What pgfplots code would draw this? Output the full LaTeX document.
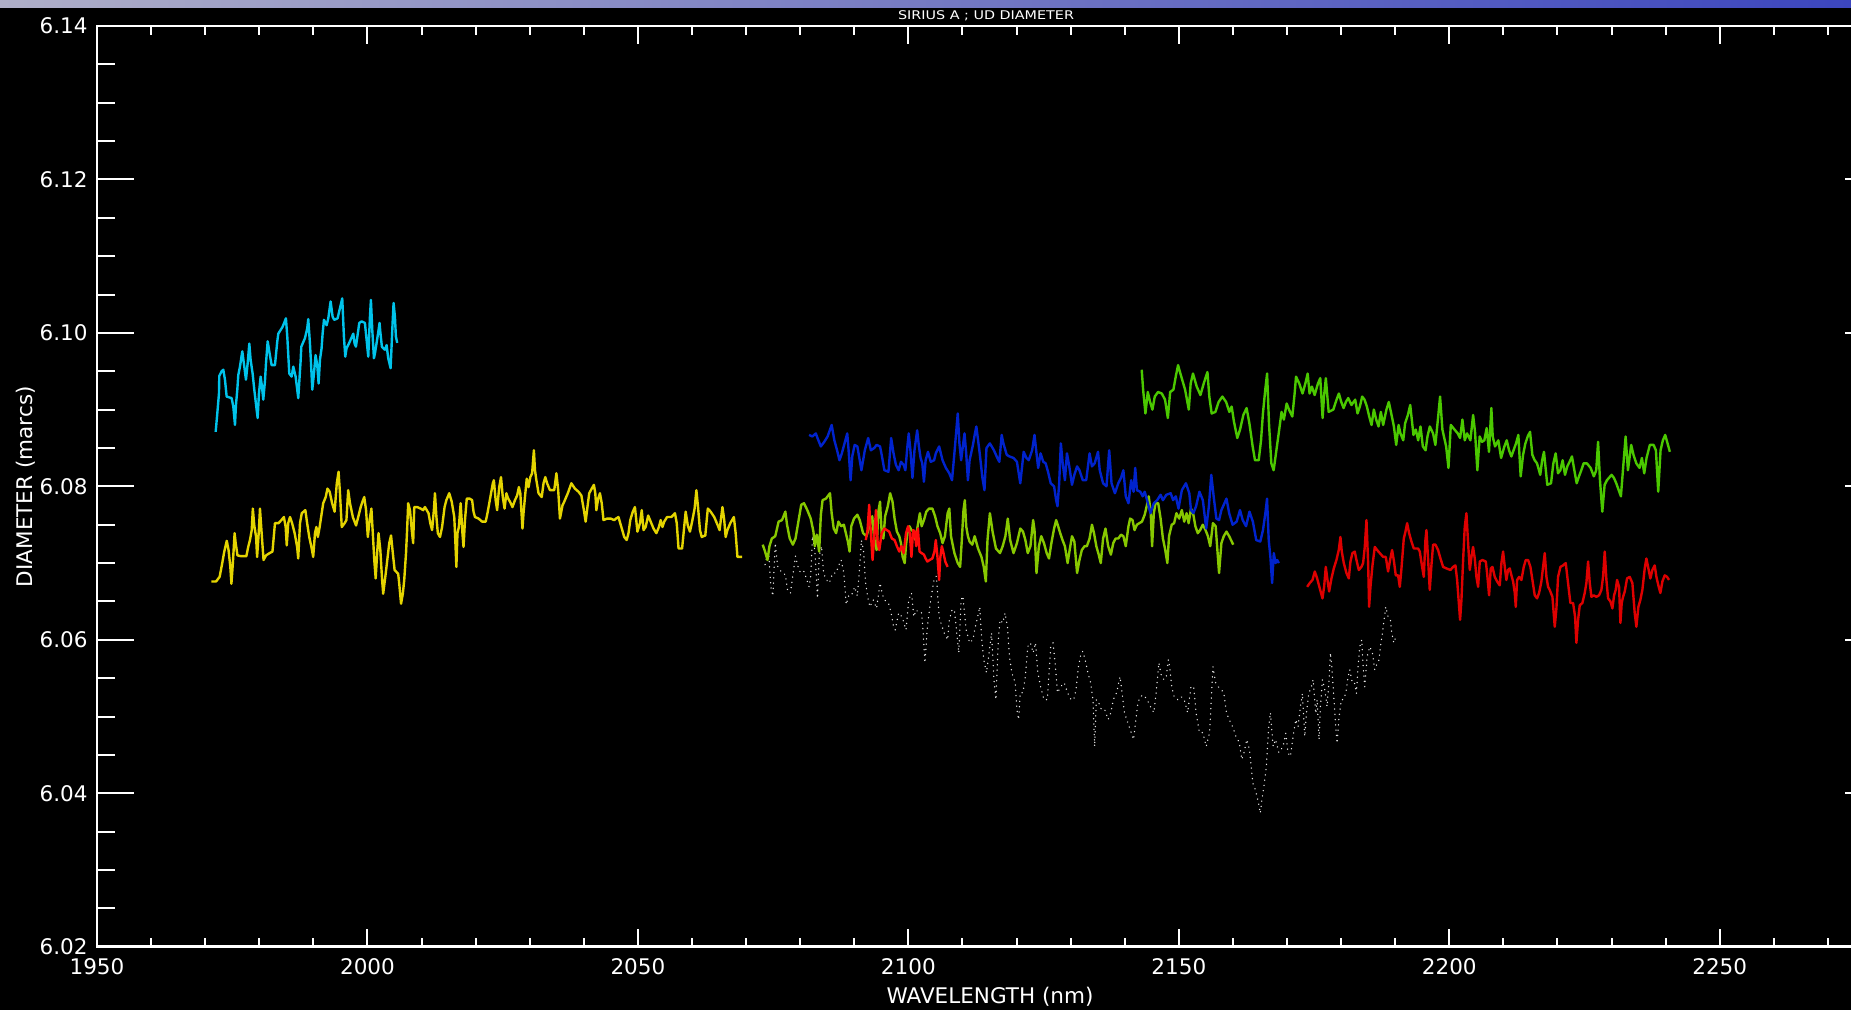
\documentclass[border=0pt]{standalone}
\usepackage{fontspec}
\setmainfont{DejaVu Sans}
\usepackage{graphicx}
\usepackage{pgfplots}
\pgfplotsset{compat=1.18}

\definecolor{udcyan}{RGB}{0,195,235}
\definecolor{udyellow}{RGB}{228,212,0}
\definecolor{udlime}{RGB}{135,200,0}
\definecolor{udgreen}{RGB}{75,200,0}
\definecolor{udblue}{RGB}{0,35,205}
\definecolor{udred}{RGB}{255,10,10}
\definecolor{uddarkred}{RGB}{222,0,0}
\definecolor{stripleft}{RGB}{175,175,200}
\definecolor{stripright}{RGB}{60,70,190}

\begin{document}
\begin{tikzpicture}
% page = 1851 x 1010 px, 1 px = 0.5bp; axis south-west at (0,0)
\useasboundingbox (-48.5bp,-31.65bp) rectangle (877bp,473.35bp);
\fill[black] (-48.5bp,-31.65bp) rectangle (877bp,473.35bp);
\shade[left color=stripleft, right color=stripright] (-48.5bp,469.6bp) rectangle (877bp,473.35bp);

\begin{axis}[
    scale only axis,
    width=892.5bp, height=460.35bp,
    xmin=1950, xmax=2280, ymin=6.02, ymax=6.14,
    xtick distance=50, minor x tick num=4,
    ytick distance=0.02, minor y tick num=3,
    axis line style={white, line width=1.4bp},
    tick align=inside,
    xtick style={white, line width=1bp, /pgfplots/major tick length=9bp, /pgfplots/minor tick length=4.5bp},
    ytick style={white, line width=1bp, /pgfplots/major tick length=18.5bp, /pgfplots/minor tick length=9bp},
    tick label style={text=white, font=\fontsize{10.8}{13}\selectfont},
    /pgf/number format/assume math mode=true,
    xticklabel style={anchor=north, inner sep=0pt, yshift=-5.5bp, /pgf/number format/1000 sep={}},
    yticklabel style={anchor=east, inner sep=0pt, xshift=-4.5bp,
        /pgf/number format/.cd, fixed, fixed zerofill, precision=2},
    no markers,
    every axis plot/.append style={line width=1.2bp, line join=round},
]
% cyan
\addplot[udcyan] coordinates {
(1971.94,6.0871)(1972.24,6.0895)(1972.55,6.0921)(1972.61,6.0944)(1973.04,6.0950)(1973.35,6.0952)(1973.66,6.0939)(1973.97,6.0917)(1974.89,6.0915)(1975.20,6.0904)(1975.51,6.0880)(1975.69,6.0906)(1975.94,6.0926)(1976.12,6.0945)(1976.43,6.0956)(1976.86,6.0976)(1977.23,6.0956)(1977.54,6.0939)(1977.85,6.0960)(1978.16,6.0986)(1978.40,6.0965)(1978.77,6.0947)(1979.08,6.0926)(1979.51,6.0900)(1979.70,6.0889)(1979.94,6.0921)(1980.25,6.0943)(1980.50,6.0930)(1980.74,6.0913)(1981.05,6.0937)(1981.24,6.0960)(1981.55,6.0989)(1981.85,6.0976)(1982.28,6.0958)(1982.90,6.0958)(1983.33,6.0989)(1983.52,6.0999)(1984.32,6.1008)(1984.93,6.1019)(1985.18,6.0995)(1985.55,6.0947)(1985.98,6.0943)(1986.29,6.0956)(1986.72,6.0943)(1987.21,6.0915)(1987.64,6.0963)(1987.77,6.0982)(1988.44,6.0993)(1988.87,6.1006)(1989.06,6.1018)(1989.37,6.0986)(1989.55,6.0963)(1989.80,6.0926)(1990.11,6.0947)(1990.41,6.0971)(1990.72,6.0958)(1990.97,6.0934)(1991.22,6.0965)(1991.52,6.0980)(1991.71,6.0999)(1991.96,6.1017)(1992.45,6.1010)(1992.76,6.1019)(1993.19,6.1041)(1993.56,6.1021)(1993.87,6.1017)(1994.48,6.1019)(1994.91,6.1032)(1995.34,6.1045)(1995.65,6.0995)(1995.90,6.0969)(1996.14,6.0980)(1996.57,6.0986)(1997.38,6.0999)(1997.62,6.0986)(1997.87,6.0982)(1998.49,6.1013)(1998.92,6.1015)(1999.53,6.1013)(1999.84,6.0991)(2000.15,6.0969)(2000.46,6.1021)(2000.64,6.1043)(2000.89,6.1004)(2001.20,6.0967)(2001.38,6.0973)(2001.87,6.0995)(2002.24,6.1013)(2002.37,6.1002)(2002.67,6.0982)(2003.23,6.0978)(2003.54,6.0984)(2003.84,6.0967)(2004.28,6.0954)(2004.65,6.1013)(2004.83,6.1039)(2005.08,6.1021)(2005.26,6.0995)(2005.51,6.0987)
};
% yellow
\addplot[udyellow] coordinates {
(1971.15,6.0676)(1972.01,6.0676)(1972.67,6.0682)(1973.13,6.0699)(1973.53,6.0715)(1973.99,6.0729)(1974.32,6.0717)(1974.65,6.0695)(1974.85,6.0673)(1975.11,6.0699)(1975.44,6.0739)(1975.64,6.0726)(1975.97,6.0710)(1976.63,6.0709)(1977.62,6.0709)(1977.95,6.0721)(1978.28,6.0730)(1978.61,6.0743)(1978.81,6.0771)(1979.08,6.0749)(1979.41,6.0734)(1979.60,6.0708)(1979.93,6.0743)(1980.13,6.0771)(1980.40,6.0743)(1980.79,6.0704)(1981.25,6.0710)(1981.91,6.0713)(1982.44,6.0715)(1982.90,6.0752)(1983.56,6.0752)(1984.09,6.0756)(1984.55,6.0760)(1984.88,6.0747)(1985.08,6.0723)(1985.35,6.0752)(1985.68,6.0760)(1986.07,6.0752)(1986.54,6.0739)(1987.00,6.0721)(1987.20,6.0706)(1987.53,6.0752)(1987.86,6.0765)(1988.52,6.0769)(1988.85,6.0752)(1989.24,6.0734)(1989.64,6.0721)(1989.97,6.0708)(1990.30,6.0739)(1990.56,6.0747)(1990.83,6.0734)(1991.16,6.0747)(1991.82,6.0778)(1992.28,6.0786)(1992.61,6.0797)(1993.01,6.0793)(1993.47,6.0778)(1993.93,6.0767)(1994.33,6.0804)(1994.66,6.0819)(1994.92,6.0791)(1995.25,6.0747)(1995.78,6.0752)(1996.11,6.0756)(1996.44,6.0795)(1996.77,6.0778)(1997.30,6.0760)(1997.89,6.0749)(1998.22,6.0758)(1998.75,6.0773)(1999.08,6.0780)(1999.41,6.0786)(1999.74,6.0769)(2000.07,6.0734)(2000.40,6.0756)(2000.73,6.0771)(2001.06,6.0730)(2001.26,6.0704)(2001.52,6.0680)(2001.79,6.0713)(2002.05,6.0739)(2002.38,6.0717)(2002.71,6.0678)(2002.91,6.0660)(2003.37,6.0686)(2004.03,6.0726)(2004.36,6.0736)(2004.69,6.0713)(2005.02,6.0691)(2005.68,6.0686)(2005.88,6.0673)(2006.21,6.0647)(2006.54,6.0660)(2006.80,6.0678)(2007.13,6.0713)(2007.33,6.0743)(2007.53,6.0778)(2007.86,6.0769)(2008.19,6.0743)(2008.45,6.0726)(2008.65,6.0773)(2009.18,6.0773)(2009.84,6.0771)(2010.30,6.0769)(2010.63,6.0773)(2011.29,6.0765)(2011.62,6.0752)(2011.95,6.0743)(2012.28,6.0769)(2012.48,6.0791)(2012.75,6.0760)(2013.01,6.0739)(2013.41,6.0734)(2013.80,6.0747)(2014.26,6.0773)(2014.59,6.0782)(2015.12,6.0791)(2015.58,6.0780)(2016.05,6.0760)(2016.24,6.0730)(2016.44,6.0695)(2016.64,6.0739)(2016.90,6.0747)(2017.23,6.0778)(2017.56,6.0739)(2017.76,6.0721)(2018.03,6.0756)(2018.36,6.0784)(2018.89,6.0784)(2019.35,6.0782)(2019.61,6.0767)(2019.88,6.0760)(2020.54,6.0758)(2021.20,6.0754)(2021.86,6.0754)(2022.19,6.0765)(2022.52,6.0778)(2022.85,6.0791)(2023.18,6.0804)(2023.37,6.0808)(2023.70,6.0782)(2023.97,6.0769)(2024.36,6.0799)(2024.69,6.0812)(2025.02,6.0786)(2025.35,6.0771)(2025.68,6.0791)(2026.02,6.0784)(2026.35,6.0780)(2026.81,6.0773)(2027.27,6.0782)(2027.67,6.0788)(2028.00,6.0799)(2028.26,6.0791)(2028.66,6.0745)(2028.85,6.0765)(2029.12,6.0786)(2029.45,6.0810)(2029.78,6.0799)(2030.11,6.0812)(2030.44,6.0817)(2030.77,6.0847)(2030.97,6.0821)(2031.23,6.0808)(2031.63,6.0791)(2032.22,6.0786)(2032.55,6.0804)(2032.88,6.0812)(2033.21,6.0804)(2033.74,6.0795)(2034.53,6.0795)(2034.93,6.0817)(2035.26,6.0795)(2035.59,6.0758)(2036.05,6.0775)(2036.38,6.0780)(2037.04,6.0791)(2037.70,6.0804)(2038.36,6.0797)(2039.02,6.0793)(2039.55,6.0788)(2040.01,6.0769)(2040.34,6.0754)(2040.67,6.0773)(2041.00,6.0791)(2041.46,6.0797)(2041.86,6.0802)(2042.12,6.0791)(2042.32,6.0769)(2042.65,6.0784)(2042.98,6.0791)(2043.31,6.0778)(2043.64,6.0756)(2044.30,6.0758)(2044.96,6.0758)(2045.62,6.0756)(2045.95,6.0758)(2046.41,6.0760)(2046.94,6.0747)(2047.47,6.0734)(2047.93,6.0730)(2048.26,6.0739)(2048.59,6.0756)(2049.06,6.0767)(2049.45,6.0773)(2049.91,6.0741)(2050.38,6.0752)(2050.71,6.0769)(2051.04,6.0743)(2051.43,6.0747)(2051.90,6.0762)(2052.36,6.0754)(2052.89,6.0745)(2053.41,6.0739)(2053.88,6.0747)(2054.21,6.0756)(2054.54,6.0747)(2054.87,6.0754)(2055.39,6.0760)(2056.19,6.0760)(2056.85,6.0765)(2057.18,6.0752)(2057.51,6.0719)(2058.17,6.0719)(2058.50,6.0743)(2058.83,6.0767)(2059.22,6.0749)(2059.62,6.0741)(2060.02,6.0754)(2060.48,6.0771)(2060.81,6.0795)(2061.14,6.0771)(2061.47,6.0743)(2061.80,6.0734)(2062.46,6.0736)(2062.92,6.0771)(2063.45,6.0767)(2064.11,6.0760)(2064.77,6.0749)(2065.10,6.0743)(2065.63,6.0773)(2065.96,6.0756)(2066.22,6.0734)(2066.55,6.0743)(2067.08,6.0752)(2067.74,6.0760)(2068.07,6.0739)(2068.40,6.0708)(2069.26,6.0708)
};
% white dotted
\addplot[white!85!gray, line width=0.7bp, line cap=round, dash pattern=on 0.05bp off 2.6bp] coordinates {
(2073.51,6.0698)(2074.14,6.0717)(2074.57,6.0669)(2074.95,6.0657)(2075.39,6.0726)(2075.82,6.0696)(2076.64,6.0687)(2077.26,6.0685)(2077.70,6.0663)(2078.20,6.0661)(2078.70,6.0687)(2079.14,6.0709)(2079.57,6.0696)(2080.07,6.0687)(2080.70,6.0689)(2081.20,6.0679)(2081.64,6.0669)(2081.95,6.0683)(2082.26,6.0735)(2082.70,6.0717)(2083.20,6.0654)(2083.51,6.0709)(2083.95,6.0722)(2084.32,6.0687)(2084.76,6.0679)(2085.39,6.0674)(2086.01,6.0687)(2086.64,6.0687)(2087.07,6.0696)(2087.57,6.0704)(2088.07,6.0687)(2088.51,6.0646)(2088.95,6.0657)(2089.45,6.0657)(2090.07,6.0669)(2090.57,6.0657)(2091.01,6.0696)(2091.32,6.0730)(2091.70,6.0717)(2092.07,6.0676)(2092.45,6.0657)(2092.88,6.0643)(2093.51,6.0652)(2094.13,6.0641)(2094.76,6.0674)(2095.20,6.0659)(2095.57,6.0652)(2096.32,6.0648)(2096.82,6.0635)(2097.26,6.0617)(2097.57,6.0613)(2098.20,6.0635)(2098.82,6.0630)(2099.57,6.0613)(2100.07,6.0652)(2100.57,6.0661)(2101.01,6.0630)(2101.45,6.0639)(2101.95,6.0635)(2102.45,6.0635)(2102.70,6.0613)(2102.88,6.0591)(2103.07,6.0570)(2103.51,6.0617)(2104.13,6.0652)(2104.76,6.0679)(2105.19,6.0683)(2105.69,6.0630)(2106.01,6.0622)(2106.63,6.0609)(2107.26,6.0600)(2107.57,6.0626)(2108.07,6.0639)(2108.51,6.0639)(2108.94,6.0609)(2109.32,6.0583)(2109.76,6.0652)(2110.07,6.0657)(2110.69,6.0613)(2111.32,6.0596)(2111.94,6.0600)(2112.26,6.0613)(2112.69,6.0626)(2113.19,6.0643)(2113.57,6.0600)(2113.94,6.0574)(2114.44,6.0557)(2115.07,6.0591)(2115.38,6.0609)(2115.82,6.0548)(2116.19,6.0522)(2116.63,6.0600)(2116.94,6.0626)(2117.44,6.0622)(2117.88,6.0635)(2118.32,6.0617)(2118.69,6.0578)(2119.13,6.0557)(2119.75,6.0544)(2120.07,6.0509)(2120.38,6.0496)(2120.69,6.0531)(2121.19,6.0531)(2121.63,6.0552)(2122.07,6.0591)(2122.57,6.0596)(2123.07,6.0583)(2123.50,6.0596)(2123.94,6.0557)(2124.44,6.0539)(2125.07,6.0522)(2125.69,6.0522)(2126.32,6.0591)(2126.75,6.0596)(2127.13,6.0570)(2127.57,6.0531)(2128.19,6.0539)(2128.82,6.0544)(2129.44,6.0531)(2130.07,6.0522)(2130.57,6.0522)(2131.00,6.0535)(2131.44,6.0565)(2131.94,6.0583)(2132.25,6.0585)(2132.69,6.0574)(2133.19,6.0557)(2133.69,6.0544)(2134.13,6.0522)(2134.44,6.0461)(2134.75,6.0522)(2135.19,6.0518)(2135.69,6.0509)(2136.31,6.0509)(2136.94,6.0496)(2137.44,6.0505)(2137.88,6.0522)(2138.50,6.0531)(2139.13,6.0552)(2139.44,6.0535)(2139.94,6.0505)(2140.38,6.0496)(2141.00,6.0483)(2141.63,6.0470)(2142.06,6.0496)(2142.44,6.0518)(2142.88,6.0526)(2143.50,6.0528)(2144.13,6.0522)(2144.75,6.0513)(2145.38,6.0505)(2145.81,6.0531)(2146.31,6.0570)(2146.81,6.0552)(2147.25,6.0548)(2147.69,6.0552)(2148.06,6.0574)(2148.31,6.0565)(2148.69,6.0539)(2149.13,6.0526)(2149.75,6.0522)(2150.38,6.0526)(2151.00,6.0522)(2151.63,6.0505)(2152.25,6.0539)(2152.75,6.0539)(2153.19,6.0505)(2153.81,6.0479)(2154.44,6.0479)(2155.06,6.0461)(2155.69,6.0479)(2156.00,6.0522)(2156.31,6.0565)(2156.81,6.0544)(2157.25,6.0539)(2157.87,6.0535)(2158.31,6.0531)(2158.81,6.0505)(2159.31,6.0496)(2159.94,6.0487)(2160.56,6.0474)(2161.19,6.0466)(2161.63,6.0444)(2162.06,6.0453)(2162.56,6.0470)(2163.06,6.0457)(2163.69,6.0413)(2164.13,6.0405)(2164.75,6.0387)(2165.06,6.0374)(2165.38,6.0392)(2165.81,6.0413)(2166.19,6.0435)(2166.62,6.0487)(2166.93,6.0505)(2167.44,6.0461)(2167.87,6.0470)(2168.50,6.0453)(2169.28,6.0461)(2169.77,6.0478)(2170.20,6.0452)(2170.64,6.0448)(2171.13,6.0474)(2171.62,6.0496)(2172.05,6.0487)(2172.48,6.0513)(2172.85,6.0530)(2173.29,6.0474)(2173.59,6.0504)(2174.02,6.0530)(2174.52,6.0539)(2174.83,6.0548)(2175.32,6.0504)(2175.57,6.0522)(2175.93,6.0470)(2176.18,6.0513)(2176.55,6.0548)(2176.98,6.0535)(2177.41,6.0513)(2177.78,6.0548)(2178.03,6.0583)(2178.28,6.0565)(2178.65,6.0526)(2179.01,6.0487)(2179.26,6.0465)(2179.63,6.0500)(2180.06,6.0522)(2180.37,6.0522)(2180.86,6.0530)(2181.30,6.0552)(2181.60,6.0561)(2182.10,6.0543)(2182.53,6.0543)(2182.83,6.0530)(2183.14,6.0565)(2183.45,6.0591)(2183.82,6.0600)(2184.07,6.0565)(2184.38,6.0539)(2184.81,6.0578)(2185.30,6.0591)(2185.79,6.0583)(2186.22,6.0561)(2186.65,6.0569)(2187.02,6.0574)(2187.27,6.0591)(2187.64,6.0609)(2187.95,6.0626)(2188.26,6.0643)(2188.69,6.0630)(2189.12,6.0626)(2189.37,6.0609)(2189.74,6.0596)(2190.23,6.0606)
};
% lime
\addplot[udlime] coordinates {
(2073.07,6.0724)(2073.51,6.0715)(2073.95,6.0704)(2074.32,6.0722)(2074.76,6.0732)(2075.39,6.0735)(2076.01,6.0754)(2076.64,6.0756)(2077.26,6.0767)(2077.57,6.0750)(2078.07,6.0732)(2078.64,6.0724)(2079.14,6.0732)(2079.76,6.0758)(2080.20,6.0776)(2080.70,6.0778)(2081.32,6.0769)(2081.95,6.0758)(2082.45,6.0741)(2082.70,6.0722)(2083.07,6.0737)(2083.51,6.0715)(2083.82,6.0763)(2084.14,6.0782)(2084.76,6.0784)(2085.51,6.0791)(2085.82,6.0765)(2086.20,6.0745)(2086.64,6.0739)(2087.07,6.0754)(2087.57,6.0748)(2088.07,6.0750)(2088.82,6.0728)(2089.13,6.0715)(2089.45,6.0748)(2089.95,6.0758)(2090.57,6.0763)(2091.01,6.0756)(2091.63,6.0739)(2092.26,6.0735)(2092.88,6.0750)(2093.32,6.0761)(2093.70,6.0730)(2094.13,6.0717)(2094.45,6.0767)(2094.76,6.0780)(2095.07,6.0739)(2095.38,6.0732)(2095.70,6.0761)(2096.20,6.0774)(2096.63,6.0791)(2097.07,6.0780)(2097.45,6.0758)(2097.88,6.0741)(2098.32,6.0735)(2098.63,6.0726)(2098.95,6.0708)(2099.32,6.0700)(2099.57,6.0724)(2099.82,6.0739)(2100.20,6.0748)(2100.57,6.0743)(2101.01,6.0741)(2101.32,6.0730)(2101.76,6.0750)(2102.13,6.0765)(2102.45,6.0748)(2102.88,6.0756)(2103.32,6.0767)(2103.82,6.0771)(2104.44,6.0771)(2104.94,6.0761)(2105.38,6.0748)(2105.88,6.0739)(2106.32,6.0726)(2106.76,6.0735)(2107.26,6.0765)(2107.57,6.0771)(2107.88,6.0735)(2108.51,6.0713)(2109.13,6.0700)(2109.57,6.0695)(2109.88,6.0730)(2110.19,6.0769)(2110.44,6.0782)(2110.69,6.0748)(2111.01,6.0735)(2111.32,6.0728)(2111.82,6.0724)(2112.26,6.0735)(2112.88,6.0719)(2113.51,6.0708)(2113.94,6.0695)(2114.32,6.0676)(2114.63,6.0730)(2115.07,6.0765)(2115.57,6.0741)(2116.19,6.0719)(2116.94,6.0713)(2117.44,6.0722)(2117.94,6.0735)(2118.38,6.0758)(2118.82,6.0730)(2119.44,6.0713)(2120.07,6.0726)(2120.69,6.0745)(2121.19,6.0741)(2121.63,6.0730)(2122.07,6.0713)(2122.57,6.0722)(2123.07,6.0756)(2123.32,6.0743)(2123.69,6.0687)(2124.13,6.0722)(2124.57,6.0735)(2125.07,6.0726)(2125.57,6.0713)(2126.00,6.0706)(2126.44,6.0726)(2126.94,6.0745)(2127.32,6.0756)(2127.69,6.0748)(2128.07,6.0739)(2128.50,6.0730)(2128.94,6.0722)(2129.44,6.0700)(2129.82,6.0717)(2130.25,6.0735)(2130.69,6.0728)(2131.19,6.0687)(2131.63,6.0704)(2132.07,6.0717)(2132.57,6.0722)(2133.00,6.0722)(2133.50,6.0732)(2133.94,6.0750)(2134.32,6.0739)(2134.75,6.0722)(2135.19,6.0711)(2135.57,6.0700)(2136.00,6.0732)(2136.44,6.0745)(2136.94,6.0722)(2137.44,6.0711)(2137.88,6.0726)(2138.31,6.0732)(2138.81,6.0732)(2139.31,6.0737)(2139.75,6.0735)(2140.19,6.0722)(2140.69,6.0748)(2141.00,6.0758)(2141.44,6.0756)(2141.81,6.0743)(2142.25,6.0750)(2142.69,6.0752)(2143.19,6.0754)(2143.69,6.0763)(2144.06,6.0774)(2144.44,6.0787)(2144.81,6.0765)(2145.06,6.0722)(2145.38,6.0765)(2145.69,6.0778)(2146.19,6.0778)(2146.63,6.0758)(2147.06,6.0732)(2147.44,6.0719)(2147.88,6.0700)(2148.19,6.0735)(2148.69,6.0750)(2149.13,6.0752)(2149.56,6.0765)(2150.06,6.0758)(2150.56,6.0769)(2151.00,6.0754)(2151.44,6.0765)(2151.81,6.0752)(2152.25,6.0771)(2152.69,6.0763)(2153.06,6.0748)(2153.50,6.0739)(2153.94,6.0743)(2154.44,6.0750)(2154.94,6.0743)(2155.38,6.0735)(2155.81,6.0722)(2156.31,6.0752)(2156.81,6.0748)(2157.44,6.0687)(2157.87,6.0726)(2158.31,6.0735)(2158.81,6.0741)(2159.31,6.0735)(2160.06,6.0724)
};
% blue
\addplot[udblue] coordinates {
(2081.64,6.0867)(2082.26,6.0865)(2082.89,6.0869)(2083.20,6.0863)(2083.82,6.0852)(2084.45,6.0858)(2085.07,6.0865)(2085.82,6.0880)(2086.32,6.0860)(2086.82,6.0847)(2087.26,6.0834)(2087.70,6.0843)(2088.20,6.0856)(2088.70,6.0869)(2088.95,6.0847)(2089.32,6.0808)(2089.63,6.0839)(2090.07,6.0854)(2090.57,6.0852)(2091.01,6.0834)(2091.32,6.0821)(2091.95,6.0847)(2092.57,6.0863)(2093.07,6.0847)(2093.70,6.0850)(2094.13,6.0854)(2094.76,6.0852)(2095.07,6.0841)(2095.57,6.0821)(2096.32,6.0819)(2096.82,6.0863)(2097.26,6.0843)(2097.70,6.0828)(2098.20,6.0821)(2098.63,6.0832)(2099.13,6.0828)(2099.45,6.0821)(2099.82,6.0852)(2100.07,6.0869)(2100.38,6.0847)(2100.76,6.0811)(2101.13,6.0847)(2101.63,6.0873)(2101.95,6.0852)(2102.26,6.0837)(2102.57,6.0830)(2102.88,6.0806)(2103.19,6.0834)(2103.63,6.0845)(2104.13,6.0832)(2104.76,6.0834)(2105.07,6.0843)(2105.69,6.0852)(2106.32,6.0834)(2106.94,6.0824)(2107.57,6.0817)(2108.07,6.0808)(2108.51,6.0843)(2108.82,6.0869)(2109.13,6.0895)(2109.44,6.0856)(2109.76,6.0834)(2110.07,6.0852)(2110.38,6.0869)(2110.69,6.0843)(2111.01,6.0808)(2111.32,6.0834)(2111.94,6.0854)(2112.26,6.0867)(2112.57,6.0878)(2113.19,6.0843)(2113.69,6.0811)(2114.07,6.0795)(2114.44,6.0850)(2115.07,6.0856)(2115.82,6.0847)(2116.32,6.0839)(2116.82,6.0832)(2117.25,6.0867)(2117.57,6.0856)(2118.19,6.0841)(2118.69,6.0839)(2119.44,6.0837)(2120.07,6.0832)(2120.69,6.0804)(2121.32,6.0845)(2121.82,6.0837)(2122.25,6.0834)(2122.88,6.0847)(2123.32,6.0867)(2123.69,6.0843)(2124.00,6.0824)(2124.44,6.0843)(2124.94,6.0832)(2125.38,6.0830)(2125.82,6.0819)(2126.32,6.0804)(2126.94,6.0800)(2127.32,6.0782)(2127.57,6.0774)(2127.88,6.0804)(2128.19,6.0856)(2128.50,6.0832)(2128.94,6.0808)(2129.32,6.0843)(2129.75,6.0826)(2130.25,6.0802)(2130.69,6.0815)(2131.19,6.0826)(2131.63,6.0821)(2132.25,6.0808)(2132.88,6.0808)(2133.50,6.0843)(2133.94,6.0826)(2134.44,6.0830)(2135.06,6.0845)(2135.38,6.0821)(2136.00,6.0804)(2136.63,6.0800)(2137.13,6.0847)(2137.56,6.0804)(2138.19,6.0791)(2138.81,6.0804)(2139.31,6.0811)(2139.75,6.0821)(2140.19,6.0787)(2140.69,6.0778)(2141.19,6.0808)(2141.63,6.0793)(2141.94,6.0824)(2142.25,6.0795)(2142.88,6.0793)(2143.31,6.0787)(2143.69,6.0793)(2144.13,6.0782)(2144.75,6.0765)(2145.38,6.0778)(2146.00,6.0782)(2146.63,6.0789)(2147.06,6.0782)(2147.69,6.0789)(2148.50,6.0791)(2148.94,6.0782)(2149.44,6.0787)(2149.94,6.0771)(2150.56,6.0795)(2151.31,6.0804)(2151.94,6.0791)(2152.25,6.0769)(2152.69,6.0765)(2153.19,6.0774)(2153.81,6.0793)(2154.44,6.0782)(2155.06,6.0745)(2155.56,6.0774)(2156.00,6.0815)(2156.44,6.0787)(2156.94,6.0758)(2157.44,6.0756)(2157.87,6.0769)(2158.81,6.0784)(2159.31,6.0765)(2159.94,6.0750)(2160.69,6.0754)(2161.31,6.0769)(2161.81,6.0756)(2162.43,6.0748)(2163.06,6.0767)(2163.69,6.0754)(2164.31,6.0730)(2165.06,6.0728)(2165.56,6.0743)(2166.00,6.0765)(2166.31,6.0784)(2166.62,6.0730)(2166.93,6.0708)(2167.25,6.0674)(2167.56,6.0713)(2167.87,6.0700)(2168.18,6.0704)(2168.50,6.0700)
};
% short red
\addplot[udred] coordinates {
(2092.13,6.0730)(2092.45,6.0743)(2092.76,6.0776)(2093.07,6.0739)(2093.38,6.0704)(2093.70,6.0735)(2094.01,6.0769)(2094.32,6.0726)(2094.63,6.0717)(2095.07,6.0739)(2095.57,6.0745)(2096.01,6.0743)(2096.45,6.0741)(2096.95,6.0732)(2097.45,6.0730)(2097.88,6.0722)(2098.32,6.0715)(2098.70,6.0722)(2099.13,6.0713)(2099.57,6.0739)(2099.95,6.0748)(2100.26,6.0739)(2100.57,6.0708)(2100.88,6.0743)(2101.20,6.0741)(2101.45,6.0722)(2101.76,6.0745)(2102.07,6.0715)(2102.45,6.0713)(2102.88,6.0711)(2103.19,6.0706)(2103.51,6.0702)(2103.94,6.0704)(2104.44,6.0706)(2104.82,6.0715)(2105.07,6.0730)(2105.38,6.0708)(2105.69,6.0678)(2105.88,6.0706)(2106.19,6.0722)(2106.44,6.0715)(2106.82,6.0702)(2107.26,6.0695)
};
% green
\addplot[udgreen] coordinates {
(2143.14,6.0952)(2143.40,6.0926)(2143.83,6.0895)(2144.26,6.0923)(2144.69,6.0910)(2145.12,6.0900)(2145.55,6.0917)(2146.16,6.0923)(2146.85,6.0921)(2147.45,6.0913)(2147.97,6.0889)(2148.40,6.0923)(2149.00,6.0926)(2149.43,6.0943)(2149.86,6.0958)(2150.29,6.0947)(2151.16,6.0926)(2151.84,6.0900)(2152.19,6.0934)(2152.62,6.0947)(2153.31,6.0930)(2154.00,6.0919)(2154.60,6.0934)(2155.29,6.0949)(2155.64,6.0917)(2156.07,6.0895)(2156.76,6.0897)(2157.36,6.0910)(2158.05,6.0917)(2158.74,6.0910)(2159.34,6.0897)(2159.77,6.0904)(2160.20,6.0884)(2160.81,6.0863)(2161.32,6.0874)(2161.93,6.0893)(2162.53,6.0902)(2163.05,6.0882)(2163.65,6.0852)(2164.08,6.0834)(2164.77,6.0834)(2165.20,6.0860)(2165.55,6.0895)(2165.98,6.0926)(2166.32,6.0947)(2166.67,6.0882)(2167.10,6.0830)(2167.53,6.0821)(2167.96,6.0843)(2168.56,6.0874)(2168.99,6.0897)(2169.42,6.0887)(2169.94,6.0908)(2170.37,6.0900)(2170.98,6.0891)(2171.41,6.0921)(2171.67,6.0943)(2172.27,6.0934)(2172.87,6.0921)(2173.39,6.0934)(2173.82,6.0947)(2174.17,6.0921)(2174.60,6.0930)(2175.11,6.0919)(2175.72,6.0934)(2176.15,6.0941)(2176.58,6.0889)(2176.84,6.0917)(2177.18,6.0941)(2177.70,6.0897)(2178.56,6.0900)(2179.16,6.0913)(2179.59,6.0921)(2180.03,6.0910)(2180.46,6.0902)(2180.89,6.0910)(2181.32,6.0915)(2181.92,6.0906)(2182.61,6.0913)(2183.04,6.0895)(2183.47,6.0904)(2183.90,6.0917)(2184.33,6.0913)(2184.77,6.0904)(2185.20,6.0891)(2185.63,6.0880)(2186.06,6.0900)(2186.49,6.0887)(2186.92,6.0878)(2187.35,6.0897)(2187.78,6.0880)(2188.38,6.0900)(2188.82,6.0910)(2189.33,6.0893)(2189.76,6.0878)(2190.19,6.0854)(2190.63,6.0880)(2190.97,6.0869)(2191.49,6.0860)(2191.83,6.0882)(2192.35,6.0893)(2192.78,6.0906)(2193.38,6.0867)(2193.81,6.0874)(2194.25,6.0860)(2194.68,6.0878)(2195.11,6.0852)(2195.62,6.0847)(2195.97,6.0865)(2196.40,6.0878)(2197.00,6.0869)(2197.43,6.0854)(2197.95,6.0891)(2198.30,6.0917)(2198.73,6.0874)(2199.42,6.0852)(2199.85,6.0824)(2200.28,6.0880)(2200.97,6.0874)(2201.57,6.0869)(2202.00,6.0863)(2202.43,6.0887)(2202.86,6.0860)(2203.29,6.0869)(2203.90,6.0860)(2204.41,6.0893)(2204.76,6.0871)(2205.19,6.0821)(2205.62,6.0865)(2206.05,6.0858)(2206.48,6.0860)(2206.91,6.0876)(2207.34,6.0845)(2207.78,6.0902)(2208.03,6.0865)(2208.46,6.0852)(2209.07,6.0860)(2209.58,6.0837)(2210.19,6.0852)(2210.62,6.0860)(2211.05,6.0847)(2211.48,6.0839)(2212.34,6.0856)(2212.77,6.0867)(2213.20,6.0813)(2213.64,6.0841)(2214.07,6.0856)(2214.50,6.0865)(2214.93,6.0871)(2215.36,6.0841)(2215.79,6.0834)(2216.22,6.0830)(2216.82,6.0815)(2217.17,6.0834)(2217.51,6.0845)(2218.12,6.0802)(2218.81,6.0804)(2219.24,6.0830)(2219.67,6.0843)(2220.10,6.0817)(2220.53,6.0821)(2220.96,6.0834)(2221.39,6.0815)(2221.82,6.0826)(2222.25,6.0832)(2222.68,6.0839)(2223.12,6.0821)(2223.55,6.0804)(2223.98,6.0813)(2224.41,6.0821)(2224.84,6.0830)(2225.44,6.0830)(2226.13,6.0824)(2226.73,6.0813)(2227.17,6.0821)(2227.51,6.0858)(2227.86,6.0808)(2228.29,6.0767)(2228.72,6.0802)(2229.15,6.0808)(2230.01,6.0815)(2230.44,6.0811)(2230.87,6.0804)(2231.73,6.0787)(2232.16,6.0826)(2232.60,6.0865)(2233.03,6.0821)(2233.63,6.0854)(2234.06,6.0841)(2234.58,6.0830)(2235.18,6.0824)(2235.61,6.0837)(2236.04,6.0817)(2236.47,6.0837)(2237.08,6.0854)(2237.77,6.0854)(2238.20,6.0847)(2238.63,6.0793)(2239.06,6.0847)(2239.49,6.0860)(2239.92,6.0867)(2240.35,6.0856)(2240.78,6.0845)
};
% long red
\addplot[uddarkred] coordinates {
(2173.72,6.0669)(2174.21,6.0674)(2174.71,6.0678)(2175.14,6.0689)(2175.57,6.0680)(2176.06,6.0667)(2176.56,6.0654)(2176.86,6.0669)(2177.17,6.0695)(2177.48,6.0678)(2177.79,6.0663)(2178.22,6.0680)(2178.65,6.0693)(2179.14,6.0704)(2179.57,6.0717)(2179.88,6.0734)(2180.13,6.0715)(2180.50,6.0700)(2180.99,6.0687)(2181.42,6.0680)(2181.73,6.0702)(2182.10,6.0713)(2182.53,6.0715)(2182.84,6.0704)(2183.27,6.0691)(2183.76,6.0695)(2184.07,6.0700)(2184.38,6.0721)(2184.69,6.0756)(2185.00,6.0700)(2185.18,6.0643)(2185.43,6.0669)(2185.80,6.0697)(2186.23,6.0721)(2186.66,6.0717)(2187.15,6.0713)(2187.77,6.0708)(2188.26,6.0708)(2188.69,6.0689)(2189.00,6.0702)(2189.43,6.0717)(2189.74,6.0704)(2190.11,6.0684)(2190.54,6.0684)(2190.85,6.0669)(2191.16,6.0693)(2191.59,6.0732)(2191.90,6.0741)(2192.21,6.0752)(2192.58,6.0739)(2193.01,6.0728)(2193.44,6.0719)(2194.24,6.0719)(2194.55,6.0715)(2194.98,6.0695)(2195.29,6.0682)(2195.59,6.0730)(2195.78,6.0743)(2196.09,6.0704)(2196.39,6.0665)(2196.70,6.0697)(2197.01,6.0724)(2197.44,6.0724)(2197.93,6.0717)(2198.37,6.0706)(2198.86,6.0695)(2199.48,6.0693)(2200.21,6.0691)(2200.71,6.0695)(2201.14,6.0697)(2201.45,6.0678)(2201.82,6.0643)(2202.00,6.0626)(2202.25,6.0652)(2202.56,6.0704)(2202.86,6.0747)(2203.17,6.0765)(2203.48,6.0726)(2203.79,6.0691)(2204.10,6.0708)(2204.40,6.0721)(2204.71,6.0706)(2205.02,6.0682)(2205.33,6.0669)(2205.64,6.0702)(2206.13,6.0704)(2206.75,6.0702)(2206.99,6.0687)(2207.36,6.0658)(2207.67,6.0693)(2207.98,6.0695)(2208.41,6.0682)(2208.84,6.0676)(2209.33,6.0671)(2209.64,6.0700)(2209.95,6.0715)(2210.26,6.0695)(2210.56,6.0678)(2210.87,6.0691)(2211.18,6.0693)(2211.49,6.0684)(2211.80,6.0676)(2212.11,6.0661)(2212.29,6.0643)(2212.54,6.0678)(2212.91,6.0682)(2213.34,6.0678)(2213.77,6.0695)(2214.14,6.0704)(2214.57,6.0704)(2215.00,6.0695)(2215.37,6.0678)(2215.80,6.0658)(2216.23,6.0654)(2216.60,6.0661)(2217.03,6.0676)(2217.34,6.0695)(2217.65,6.0713)(2217.96,6.0682)(2218.27,6.0669)(2218.57,6.0665)(2219.07,6.0656)(2219.50,6.0617)(2219.81,6.0641)(2220.11,6.0682)(2220.55,6.0695)(2221.04,6.0697)(2221.53,6.0700)(2221.96,6.0674)(2222.39,6.0648)(2222.89,6.0648)(2223.26,6.0630)(2223.50,6.0596)(2223.81,6.0626)(2224.12,6.0645)(2224.61,6.0648)(2225.04,6.0661)(2225.35,6.0674)(2225.66,6.0702)(2225.97,6.0674)(2226.28,6.0656)(2226.71,6.0658)(2227.20,6.0656)(2227.69,6.0658)(2228.12,6.0665)(2228.43,6.0682)(2228.74,6.0715)(2229.05,6.0678)(2229.36,6.0654)(2229.79,6.0650)(2230.16,6.0641)(2230.47,6.0658)(2230.77,6.0665)(2231.02,6.0678)(2231.39,6.0669)(2231.64,6.0622)(2231.88,6.0648)(2232.13,6.0656)(2232.44,6.0663)(2232.87,6.0680)(2233.36,6.0682)(2233.85,6.0674)(2234.28,6.0635)(2234.59,6.0617)(2234.96,6.0643)(2235.33,6.0652)(2235.70,6.0665)(2236.13,6.0693)(2236.44,6.0706)(2236.75,6.0695)(2237.18,6.0680)(2237.55,6.0691)(2237.98,6.0697)(2238.29,6.0682)(2238.72,6.0669)(2239.03,6.0661)(2239.40,6.0676)(2239.83,6.0684)(2240.26,6.0682)(2240.63,6.0678)
};
\end{axis}

\node[text=white, anchor=base, inner sep=0pt] at (444.5bp,463.4bp)
    {\fontsize{6}{7}\selectfont\scalebox{1.2}[1]{SIRIUS A ; UD DIAMETER}};
\node[text=white, anchor=base, inner sep=0pt] at (446.5bp,-28.2bp)
    {\fontsize{10.8}{13}\selectfont WAVELENGTH (nm)};
\node[text=white, anchor=base, inner sep=0pt, rotate=90] at (-32.5bp,230bp)
    {\fontsize{10.8}{13}\selectfont DIAMETER (marcs)};
\end{tikzpicture}
\end{document}
